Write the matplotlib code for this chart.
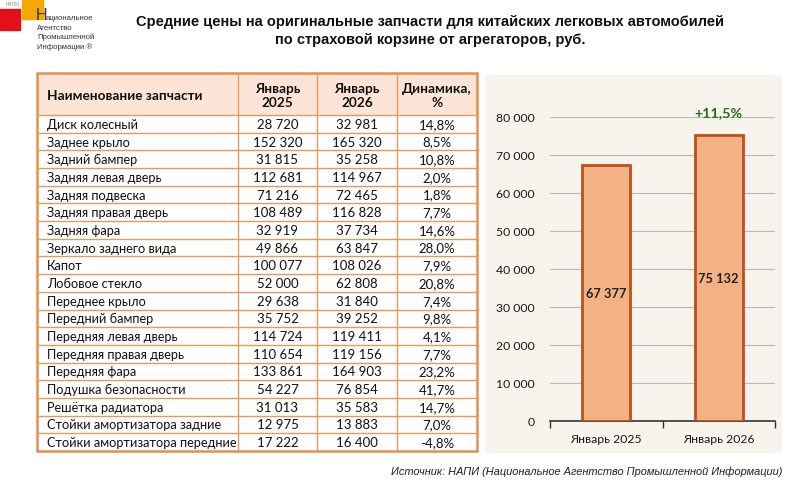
import matplotlib
matplotlib.use("Agg")
import matplotlib.pyplot as plt
from matplotlib.patches import Rectangle

# ---------------- data ----------------
parts = ["Диск колесный", "Заднее крыло", "Задний бампер", "Задняя левая дверь",
         "Задняя подвеска", "Задняя правая дверь", "Задняя фара", "Зеркало заднего вида",
         "Капот", "Лобовое стекло", "Переднее крыло", "Передний бампер",
         "Передняя левая дверь", "Передняя правая дверь", "Передняя фара",
         "Подушка безопасности", "Решётка радиатора", "Стойки амортизатора задние",
         "Стойки амортизатора передние"]
price_2025 = [28720, 152320, 31815, 112681, 71216, 108489, 32919, 49866, 100077, 52000,
              29638, 35752, 114724, 110654, 133861, 54227, 31013, 12975, 17222]
price_2026 = [32981, 165320, 35258, 114967, 72465, 116828, 37734, 63847, 108026, 62808,
              31840, 39252, 119411, 119156, 164903, 76854, 35583, 13883, 16400]
dynamics = ["14,8%", "8,5%", "10,8%", "2,0%", "1,8%", "7,7%", "14,6%", "28,0%", "7,9%",
            "20,8%", "7,4%", "9,8%", "4,1%", "7,7%", "23,2%", "41,7%", "14,7%", "7,0%", "-4,8%"]
headers = ["Наименование запчасти", "Январь\n2025", "Январь\n2026", "Динамика,\n%"]

bar_categories = ["Январь 2025", "Январь 2026"]
bar_values = [67377, 75132]
bar_growth = "+11,5%"
y_ticks = [0, 10000, 20000, 30000, 40000, 50000, 60000, 70000, 80000]

title = ("Средние цены на оригинальные запчасти для китайских легковых автомобилей\n"
         "по страховой корзине от агрегаторов, руб.")
source = "Источник: НАПИ (Национальное Агентство Промышленной Информации)"

# ---------------- figure ----------------
W, H = 789, 485
fig = plt.figure(figsize=(W / 100, H / 100), dpi=100)
fig.patch.set_facecolor("white")


def fx(px):
    return px / W


def fy(py):
    return 1 - py / H


def fmt(v):
    return f"{v:,}".replace(",", " ")


TFONT = ["Lato", "DejaVu Sans"]
AFONT = ["Liberation Sans", "DejaVu Sans"]
NFONT = ["Liberation Sans Narrow", "Liberation Sans", "DejaVu Sans"]

# ---------------- logo ----------------
fig.patches.append(Rectangle((fx(0), fy(31)), fx(20), 21 / H, transform=fig.transFigure,
                             color="#E3101A", zorder=-2))
fig.patches.append(Rectangle((fx(22), fy(20)), fx(21), 20 / H, transform=fig.transFigure,
                             color="#F5A800", zorder=-2))
fig.text(fx(13), fy(5), "НАПИ", fontsize=3.5, color="#888888", ha="center", va="center",
         family=AFONT)
fig.text(fx(35.5), fy(15.5), "Н", fontsize=11.5, color="#333333", ha="left", va="center",
         family=NFONT)
fig.text(fx(45.5), fy(18.5), "ациональное", fontsize=5.6, color="#333333", ha="left",
         va="center", family=NFONT)
for i, line in enumerate(["Агентство", "Промышленной", "Информации ®"]):
    fig.text(fx(37), fy(28 + 9.7 * i), line, fontsize=5.6, color="#333333", ha="left",
             va="center", family=NFONT)

# ---------------- title ----------------
fig.text(fx(430), fy(31), title, fontsize=10.5, fontweight="bold", ha="center", va="center",
         family=AFONT, linespacing=1.3, color="#111111")

# ---------------- table ----------------
TX0, TX1, TY0, TY1 = 37, 477, 74, 452
tax = fig.add_axes([fx(TX0), fy(TY1), (TX1 - TX0) / W, (TY1 - TY0) / H])
tax.set_xlim(0, TX1 - TX0)
header_h = 42
row_h = (TY1 - TY0 - header_h) / len(parts)
tax.set_ylim(TY1 - TY0, 0)
tax.axis("off")
col_edges = [0, 201, 280, 360, 440]
edge_col = "#E59A5C"
tax.add_patch(Rectangle((0, 0), 440, header_h, facecolor="#FCE4D6", edgecolor="none"))
for i, h in enumerate(headers):
    if i == 0:
        tax.text(10, header_h / 2 + 1, h, ha="left", va="center", fontsize=9.8,
                 fontweight="bold", family=TFONT, color="#111111")
    else:
        c = (col_edges[i] + col_edges[i + 1]) / 2
        tax.text(c, header_h / 2 + 1, h, ha="center", va="center", fontsize=9.8,
                 fontweight="bold", family=TFONT, color="#111111", linespacing=1.25)
for r, name in enumerate(parts):
    yc = header_h + (r + 0.5) * row_h
    vals = [fmt(price_2025[r]), fmt(price_2026[r]), dynamics[r]]
    tax.text(10, yc, name, ha="left", va="center", fontsize=9.2, family=TFONT, color="#111111")
    for j, v in enumerate(vals):
        c = (col_edges[j + 1] + col_edges[j + 2]) / 2
        tax.text(c, yc, v, ha="center", va="center", fontsize=9.5, family=TFONT,
                 color="#111111")
for r in range(len(parts)):
    y = header_h + r * row_h
    tax.plot([0, 440], [y, y], color=edge_col, lw=1.0, solid_capstyle="butt")
for x in col_edges[1:-1]:
    tax.plot([x, x], [0, TY1 - TY0], color=edge_col, lw=1.0)
tax.add_patch(Rectangle((0, 0), 440, TY1 - TY0, facecolor="none", edgecolor="#E0914F",
                        lw=1.8, clip_on=False))

# ---------------- bar chart ----------------
fig.patches.append(Rectangle((fx(485), fy(454)), (782 - 485) / W, (454 - 76) / H,
                             transform=fig.transFigure, facecolor="#F7F4EE",
                             edgecolor="none", zorder=-1))
bax = fig.add_axes([fx(550), fy(422), (775 - 550) / W, (422 - 118) / H], zorder=2)
bax.set_facecolor("none")
x = list(range(len(bar_categories)))
bax.bar(x, bar_values, width=0.43, color="#F4B183", edgecolor="#C0501A", linewidth=2,
        zorder=3)
bax.set_xlim(-0.5, 1.5)
bax.set_ylim(0, 80000)
bax.set_yticks(y_ticks)
bax.set_yticklabels([fmt(v) for v in y_ticks], family=TFONT, fontsize=8.8, color="#1A1A1A")
bax.yaxis.grid(True, color="#B8B8B8", lw=0.8, zorder=0)
bax.set_axisbelow(True)
bax.tick_params(axis="y", length=0, pad=11)
bax.set_xticks(x)
bax.set_xticklabels(bar_categories, family=TFONT, fontsize=8.8, color="#1A1A1A")
bax.tick_params(axis="x", length=0, pad=9)
bax.set_xticks([-0.5, 0.5, 1.5], minor=True)
bax.tick_params(axis="x", which="minor", length=5, width=1, color="#333333", direction="out")
for s in ["top", "right", "left"]:
    bax.spines[s].set_visible(False)
bax.spines["bottom"].set_color("#333333")
bax.spines["bottom"].set_linewidth(1.2)
for xi, v in zip(x, bar_values):
    bax.text(xi, v / 2, fmt(v), ha="center", va="center", fontsize=9.3, fontweight="bold",
             family=TFONT, color="#222222", zorder=4)
bax.text(x[-1], 81300, bar_growth, ha="center", va="center", fontsize=10.3, fontweight="bold",
         family=TFONT, color="#2E6A1C", clip_on=False)

# ---------------- source ----------------
fig.text(fx(782), fy(472), source, ha="right", va="center", fontsize=7.9, style="italic",
         family=AFONT, color="#222222")

fig.savefig("out.png", dpi=100)
